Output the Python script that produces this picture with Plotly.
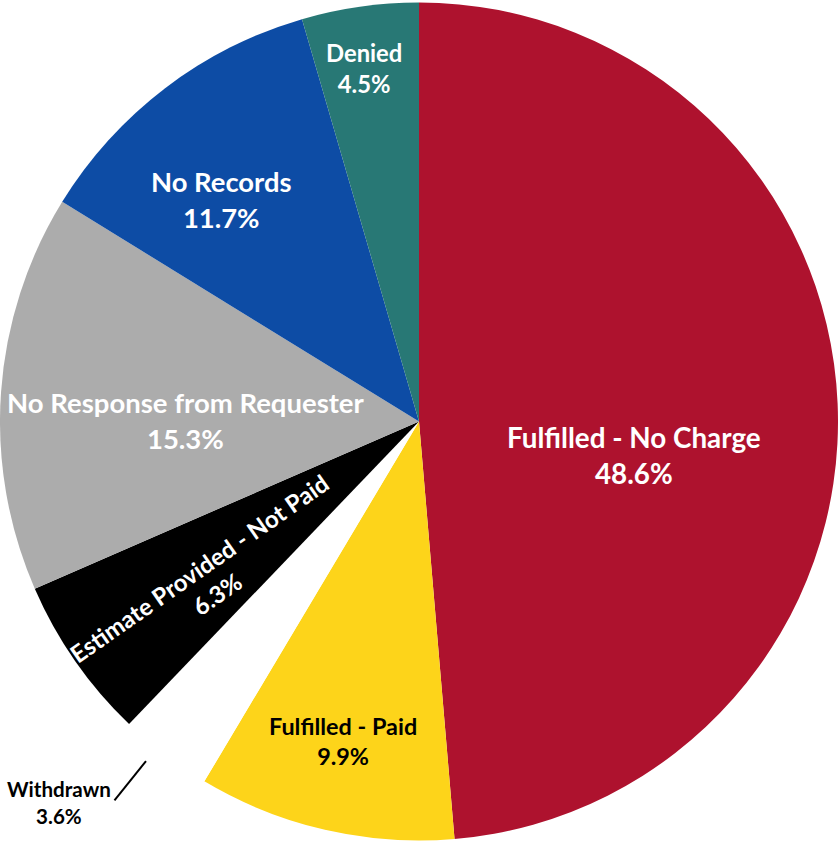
import math
import plotly.graph_objects as go

# Request outcomes, clockwise from 12 o'clock
labels = [
    "Fulfilled - No Charge",
    "Fulfilled - Paid",
    "Withdrawn",
    "Estimate Provided - Not Paid",
    "No Response from Requester",
    "No Records",
    "Denied",
]
percents = [48.6, 9.9, 3.6, 6.3, 15.3, 11.7, 4.5]

slice_colors = ["#AE122E", "#FDD41A", "#FFFFFF", "#000000", "#ACACAC", "#0D4CA5", "#287875"]
text_colors = ["white", "black", "black", "white", "white", "white", "white"]
text_sizes = [27.8, 23.4, 20.6, 24, 27.5, 27.4, 23.8]
# label placement: fraction of the radius and angular nudge (deg) from the slice bisector
text_radius = [0.52, 0.785, None, 0.632, 0.557, 0.71, 0.853]
text_nudge = [11.5, 0.4, 0.0, -2.2, -3.8, -4.3, -0.7]
outside = "Withdrawn"

W, H = 838, 843
R = min(W, H) / 2.0
FONT = "Lato"

fig = go.Figure(
    go.Pie(
        labels=labels,
        values=percents,
        sort=False,
        direction="clockwise",
        rotation=0,
        marker=dict(colors=slice_colors, line=dict(width=0)),
        textinfo="none",
        hoverinfo="label+value",
        domain=dict(x=[0, 1], y=[0, 1]),
        showlegend=False,
    )
)


def polar_to_paper(k, theta_deg):
    """Point at k*radius, angle measured clockwise from 12 o'clock."""
    t = math.radians(theta_deg)
    return 0.5 + k * R * math.sin(t) / W, 0.5 + k * R * math.cos(t) / H


total = sum(percents)
annotations = []
shapes = []
cum = 0.0
for i, (lab, val) in enumerate(zip(labels, percents)):
    mid = (cum + val / 2.0) / total * 360.0
    cum += val
    txt = f"{lab}<br>{val:.1f}%"
    font = dict(family=FONT, size=text_sizes[i], color=text_colors[i], weight="bold")
    if lab == outside:
        ang = mid + 1.5
        x0, y0 = polar_to_paper(1.04, ang)
        x1, y1 = polar_to_paper(1.16, ang)
        shapes.append(dict(type="line", xref="paper", yref="paper",
                           x0=x0, y0=y0, x1=x1, y1=y1,
                           line=dict(color="black", width=2)))
        annotations.append(dict(text=txt, x=x1, y=y1, xref="paper", yref="paper",
                                xanchor="right", yanchor="middle", xshift=-1, yshift=-2,
                                showarrow=False, align="center", font=font))
        continue
    ang = mid + text_nudge[i]
    x, y = polar_to_paper(text_radius[i], ang)
    angle = 0
    if lab == "Estimate Provided - Not Paid":
        angle = mid - 270.0  # radial orientation in a thin slice
    annotations.append(dict(text=txt, x=x, y=y, xref="paper", yref="paper",
                            xanchor="center", yanchor="middle", textangle=angle,
                            showarrow=False, align="center", font=font))

fig.update_layout(
    width=W,
    height=H,
    margin=dict(l=0, r=0, t=0, b=0),
    paper_bgcolor="white",
    plot_bgcolor="white",
    annotations=annotations,
    shapes=shapes,
)

fig.write_html("out.html")
